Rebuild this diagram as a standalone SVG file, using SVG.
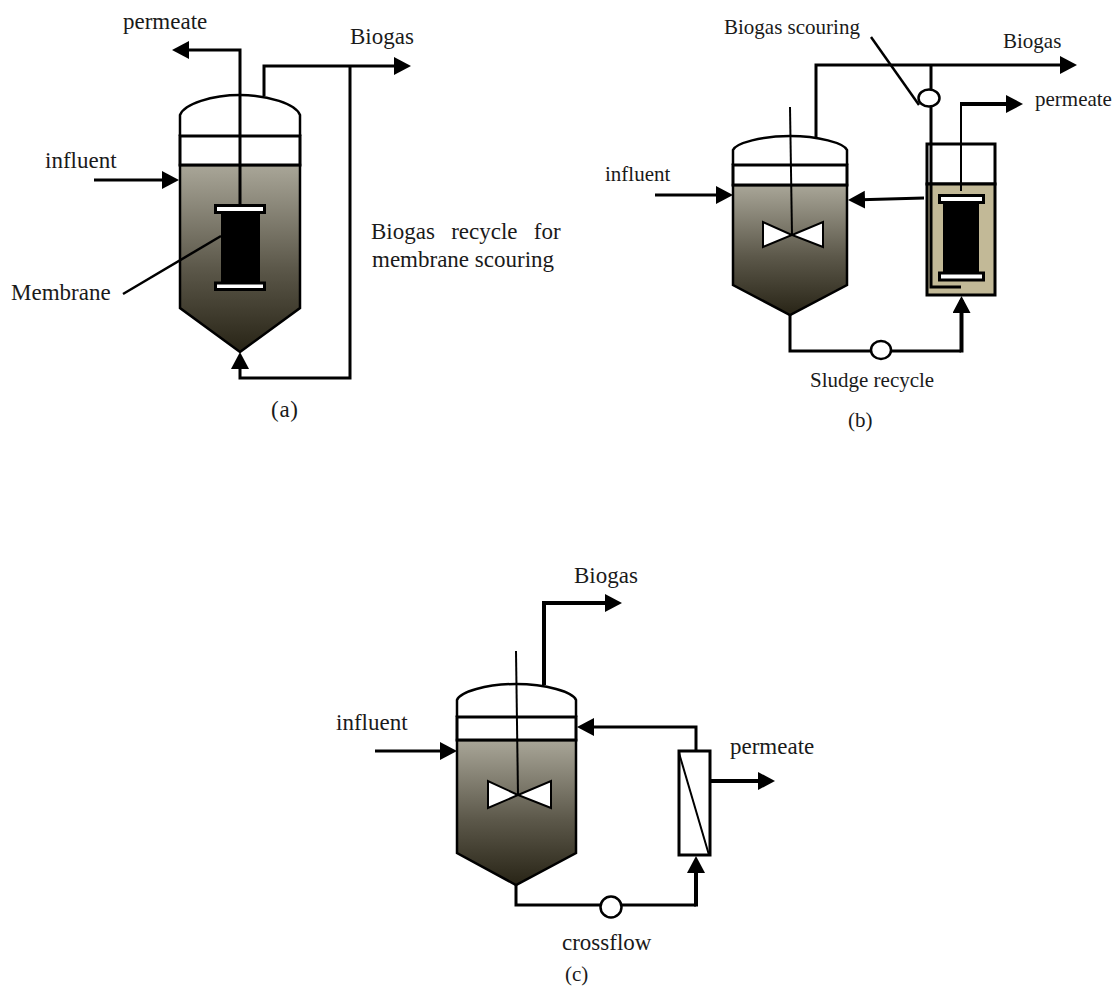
<svg xmlns="http://www.w3.org/2000/svg" width="1117" height="987" viewBox="0 0 1117 987">
<style>
text{font-family:"Liberation Serif","Times New Roman",serif;fill:#1a1a1a}
.l{font-size:23px}.m{font-size:21px}
.p{fill:none;stroke:#000;stroke-width:3}
.h{fill:none;stroke:#000;stroke-width:4}
.t{fill:none;stroke:#000;stroke-width:2}
.q{fill:none;stroke:#000;stroke-width:2.5}
.o{fill:#fff;stroke:#000;stroke-width:3}
.c{fill:#fff;stroke:#000;stroke-width:2.5}
.b{fill:#fff;stroke:#000;stroke-width:2}
.k{fill:#000}
.w{fill:#fff;stroke:#000;stroke-width:3}
</style>
<defs>
<linearGradient id="sl" x1="0" y1="0" x2="0" y2="1"><stop offset="0" stop-color="#a9a698"/><stop offset="0.55" stop-color="#5c584a"/><stop offset="1" stop-color="#282416"/></linearGradient>
<marker id="ah" markerUnits="userSpaceOnUse" markerWidth="20" markerHeight="20" refX="13" refY="9" orient="auto"><path d="M0 0 L17 9 L0 18Z" fill="#000"/></marker>
</defs>
<g id="tank-a">
<path d="M180 165V308L240 352L300 308V165Z" fill="url(#sl)" stroke="#000" stroke-width="2.5"/>
<path d="M180 136V115C184 104 212 95 240 95C268 95 296 104 300 115V136" class="c"/>
<rect x="180" y="136" width="120" height="29" class="o"/>
<rect x="221" y="212" width="39" height="70" class="k"/>
<rect x="215.500" y="205.500" width="49" height="7" class="w"/>
<rect x="215.500" y="283" width="49" height="6.500" class="w"/>
</g>
<g id="tank-b">
<path d="M733 185V285L790 315L847 285V185Z" fill="url(#sl)" stroke="#000" stroke-width="2.5"/>
<path d="M733 165V150C736 143 762 136 790 136C818 136 844 143 847 150V165" class="c"/>
<rect x="733" y="165" width="114" height="20" class="o"/>
<path d="M763 222V247L792 235Z" class="b"/><path d="M823 222V247L792 235Z" class="b"/>
</g>
<g id="tank-b-membrane">
<rect x="927" y="144" width="68" height="40" fill="#fff" stroke="#000" stroke-width="3"/>
<rect x="927" y="184" width="68" height="111" fill="#c2b997" stroke="#000" stroke-width="3"/>
<rect x="943" y="202" width="36" height="70" class="k"/>
<rect x="939.500" y="195.500" width="44" height="7" class="w"/>
<rect x="939.500" y="273" width="44" height="7" class="w"/>
</g>
<g id="tank-c">
<path d="M457 740V853L516 885L576 853V740Z" fill="url(#sl)" stroke="#000" stroke-width="2.500"/>
<path d="M457 717V700C460 692 486 684 516 684C546 684 573 692 576 700V717" class="c"/>
<rect x="457" y="717" width="119" height="23" class="o"/>
<path d="M488 781V808L518 795Z" class="b"/><path d="M551 781V808L518 795Z" class="b"/>
</g>
<g id="module-c">
<rect x="679" y="751" width="31" height="104" fill="#fff" stroke="#000" stroke-width="3"/>
<path d="M679 753L709 855" class="t"/>
</g>
<g id="connectors">
<path d="M240 205V50H176" class="p" marker-end="url(#ah)"/>
<path d="M264 96V66H407" class="p" marker-end="url(#ah)"/>
<path d="M350 66V378H240V356" class="p" marker-end="url(#ah)"/>
<path d="M94 180H175" class="p" marker-end="url(#ah)"/>
<path d="M123 294L221 236" class="q"/>
<path d="M790 107L792 235" class="t"/>
<path d="M816 137V65H1073" class="p" marker-end="url(#ah)"/>
<path d="M931 65V287H961" class="p"/>
<path d="M871 37L919 105" class="q"/>
<path d="M961 191V104" class="t"/>
<path d="M960 104H1019" class="h" marker-end="url(#ah)"/>
<path d="M924 198L852 200" class="p" marker-end="url(#ah)"/>
<path d="M655 195H729" class="p" marker-end="url(#ah)"/>
<path d="M790 315V351H961" class="p"/>
<path d="M961.500 352.500V300" class="h" marker-end="url(#ah)"/>
<path d="M516 651L518 795" class="t"/>
<path d="M544 685V603" class="h"/>
<path d="M542 603H618" class="h" marker-end="url(#ah)"/>
<path d="M375 751H453" class="p" marker-end="url(#ah)"/>
<path d="M696 750V727H581" class="p" marker-end="url(#ah)"/>
<path d="M710 781H771" class="h" marker-end="url(#ah)"/>
<path d="M516 885V905H696" class="p"/>
<path d="M696 906.500V860" class="h" marker-end="url(#ah)"/>
</g>
<g id="pumps">
<ellipse cx="929" cy="98" rx="10.500" ry="8.500" class="c"/>
<ellipse cx="881" cy="350" rx="10" ry="9" class="c"/>
<circle cx="611" cy="907" r="10.500" class="c"/>
</g>
<g id="labels">
<text class="l" x="123" y="29">permeate</text>
<text class="l" x="350" y="44">Biogas</text>
<text class="l" x="45" y="168">influent</text>
<text class="l" x="11" y="300">Membrane</text>
<text class="l" x="271" y="417" textLength="27">(a)</text>
<text class="l" x="371" y="239" word-spacing="10.500">Biogas recycle for</text>
<text class="l" x="372" y="267">membrane scouring</text>
<text class="m" x="724" y="34">Biogas scouring</text>
<text class="m" x="1003" y="48">Biogas</text>
<text class="m" x="1035" y="106">permeate</text>
<text class="m" x="605" y="181">influent</text>
<text class="m" x="810" y="387">Sludge recycle</text>
<text class="m" x="848" y="427">(b)</text>
<text class="l" x="574" y="583">Biogas</text>
<text class="l" x="336" y="730">influent</text>
<text class="l" x="730" y="754">permeate</text>
<text class="l" x="562" y="950">crossflow</text>
<text class="m" x="565" y="981">(c)</text>
</g>
</svg>
